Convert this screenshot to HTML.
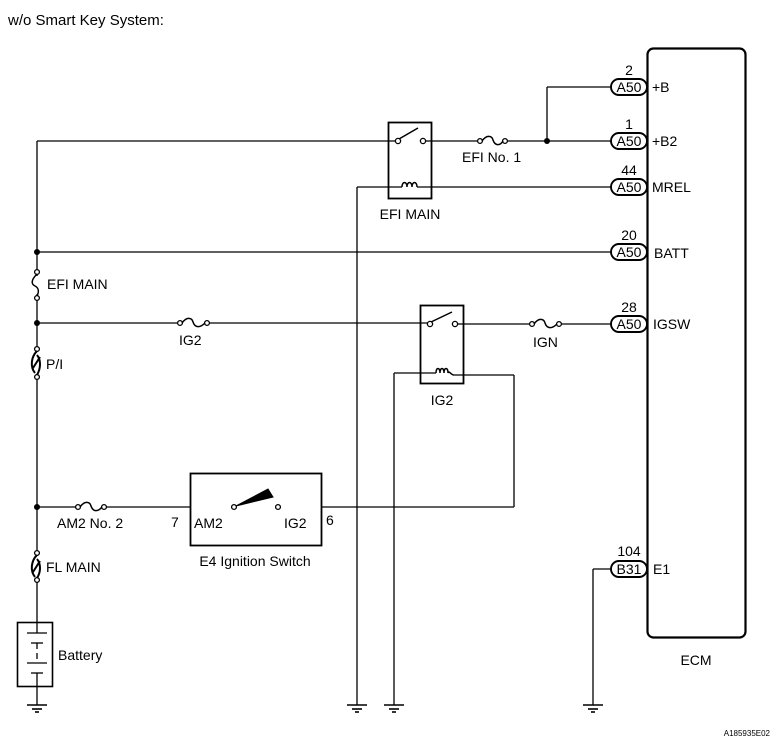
<!DOCTYPE html>
<html><head><meta charset="utf-8"><style>
html,body{margin:0;padding:0;background:#fff;}
svg{display:block;}
text{font-family:"Liberation Sans",Arial,sans-serif;fill:#000;}
</style></head><body>
<svg width="777" height="743" viewBox="0 0 777 743" xmlns="http://www.w3.org/2000/svg">
<g stroke="#000" fill="none" stroke-width="1.3">
<rect x="647.5" y="48.5" width="98" height="589" rx="6" stroke-width="2.2"/>
<line x1="37" y1="141" x2="37" y2="276"/>
<line x1="37" y1="294" x2="37" y2="347"/>
<line x1="37" y1="379" x2="37" y2="553"/>
<line x1="37" y1="580" x2="37" y2="623"/>
<circle cx="37" cy="272" r="2.4" fill="#fff"/>
<circle cx="37" cy="298" r="2.4" fill="#fff"/>
<path d="M37 274 C31 280,31 284,35 286 C39 288,39 292,37 296" stroke-width="1.5"/>
<circle cx="37" cy="349" r="2.4" fill="#fff"/>
<circle cx="37" cy="377" r="2.4" fill="#fff"/>
<path d="M37 351 C31 357,30 367,35 373 M37 355 C41 360,41 368,37 375 M33 368 L40 357" stroke-width="2"/>
<circle cx="37" cy="553" r="2.4" fill="#fff"/>
<circle cx="37" cy="580" r="2.4" fill="#fff"/>
<path d="M37 555 C31 561,30 571,35 577 M37 559 C41 564,41 572,37 578 M33 572 L40 561" stroke-width="2"/>
<rect x="17.5" y="622.5" width="35" height="64" stroke-width="1.6"/>
<line x1="37" y1="623" x2="37" y2="633"/>
<line x1="27" y1="633" x2="47" y2="633"/>
<line x1="31" y1="643" x2="43" y2="643"/>
<line x1="37" y1="643" x2="37" y2="649"/>
<line x1="37" y1="653" x2="37" y2="659"/>
<line x1="27" y1="663" x2="47" y2="663"/>
<line x1="31" y1="673" x2="43" y2="673"/>
<line x1="37" y1="673" x2="37" y2="705"/>
<line x1="37" y1="141" x2="396" y2="141"/>
<rect x="388.5" y="122.5" width="43" height="76" stroke-width="1.8"/>
<circle cx="398" cy="141" r="2.6" fill="#fff"/>
<circle cx="423" cy="141" r="2.6" fill="#fff"/>
<line x1="399" y1="139" x2="418" y2="128" stroke-width="1.5"/>
<line x1="425" y1="141" x2="478" y2="141"/>
<circle cx="480" cy="141" r="2.4" fill="#fff"/>
<circle cx="505" cy="141" r="2.4" fill="#fff"/>
<path d="M482 141 C487 134,492 136,493 140 C495 146,500 146,503 141" stroke-width="1.5"/>
<line x1="507" y1="141" x2="611" y2="141"/>
<line x1="547" y1="141" x2="547" y2="87"/>
<line x1="547" y1="87" x2="611" y2="87"/>
<line x1="357" y1="187" x2="402" y2="187"/>
<path d="M402 187 C402 181,407 181,407 187 C407 181,412 181,412 187 C412 181,417 181,417 187" stroke-width="1.5"/>
<line x1="417" y1="187" x2="611" y2="187"/>
<line x1="357" y1="187" x2="357" y2="705"/>
<line x1="37" y1="252" x2="611" y2="252"/>
<line x1="37" y1="323" x2="178" y2="323"/>
<circle cx="180" cy="323" r="2.4" fill="#fff"/>
<circle cx="207" cy="323" r="2.4" fill="#fff"/>
<path d="M182 323 C187 316,192 318,193 322 C195 328,200 328,205 323" stroke-width="1.5"/>
<line x1="209" y1="323" x2="428" y2="323"/>
<rect x="420.5" y="305.5" width="43" height="78" stroke-width="1.8"/>
<circle cx="430" cy="324" r="2.6" fill="#fff"/>
<circle cx="455" cy="324" r="2.6" fill="#fff"/>
<line x1="431" y1="322" x2="452" y2="312" stroke-width="1.5"/>
<line x1="457" y1="324" x2="530" y2="324"/>
<circle cx="532" cy="324" r="2.4" fill="#fff"/>
<circle cx="559" cy="324" r="2.4" fill="#fff"/>
<path d="M534 324 C539 317,544 319,545 323 C547 329,552 329,557 324" stroke-width="1.5"/>
<line x1="561" y1="324" x2="611" y2="324"/>
<line x1="394" y1="373" x2="436" y2="373"/>
<path d="M436 373 C436 367,440 367,440 373 C440 367,444 367,444 373 C444 367,448 367,448 373 C449 370,451 375,454 375" stroke-width="1.5"/>
<line x1="454" y1="375" x2="514" y2="375"/>
<line x1="394" y1="373" x2="394" y2="705"/>
<line x1="514" y1="375" x2="514" y2="507"/>
<line x1="514" y1="507" x2="322" y2="507"/>
<line x1="37" y1="507" x2="76" y2="507"/>
<circle cx="78" cy="507" r="2.4" fill="#fff"/>
<circle cx="104" cy="507" r="2.4" fill="#fff"/>
<path d="M80 507 C85 500,90 502,91 506 C93 512,98 512,102 507" stroke-width="1.5"/>
<line x1="106" y1="507" x2="190" y2="507"/>
<rect x="190.5" y="473.5" width="131" height="72" stroke-width="1.8"/>
<circle cx="234" cy="507" r="2.4" fill="#fff"/>
<circle cx="278" cy="507" r="2.4" fill="#fff"/>
<path d="M236 506 L268 489 L273 497 Z" fill="#000" stroke-width="1"/>
<line x1="593" y1="569" x2="611" y2="569"/>
<line x1="593" y1="569" x2="593" y2="705"/>
<g stroke-width="1.9">
<rect x="611" y="79" width="36" height="16" rx="8" fill="#fff"/>
<rect x="611" y="133" width="36" height="16" rx="8" fill="#fff"/>
<rect x="611" y="179" width="36" height="16" rx="8" fill="#fff"/>
<rect x="611" y="244" width="36" height="16" rx="8" fill="#fff"/>
<rect x="611" y="316" width="36" height="16" rx="8" fill="#fff"/>
<rect x="611" y="561" width="36" height="16" rx="8" fill="#fff"/>
</g>
<g stroke-width="1.6">
<line x1="27" y1="705" x2="47" y2="705"/><line x1="32" y1="709" x2="42" y2="709"/><line x1="35" y1="712" x2="39" y2="712"/>
<line x1="347" y1="705" x2="367" y2="705"/><line x1="352" y1="709" x2="362" y2="709"/><line x1="355" y1="712" x2="359" y2="712"/>
<line x1="384" y1="705" x2="404" y2="705"/><line x1="389" y1="709" x2="399" y2="709"/><line x1="392" y1="712" x2="396" y2="712"/>
<line x1="583" y1="705" x2="603" y2="705"/><line x1="588" y1="709" x2="598" y2="709"/><line x1="591" y1="712" x2="595" y2="712"/>
</g>
</g>
<g fill="#000">
<circle cx="547" cy="141" r="3"/>
<circle cx="37" cy="252" r="3"/>
<circle cx="37" cy="323" r="3"/>
<circle cx="37" cy="507" r="3"/>
</g>
<text x="8" y="25" font-size="15">w/o Smart Key System:</text>
<g font-size="14">
<text x="629" y="75" text-anchor="middle">2</text>
<text x="629" y="129" text-anchor="middle">1</text>
<text x="629" y="175" text-anchor="middle">44</text>
<text x="629" y="240" text-anchor="middle">20</text>
<text x="629" y="312" text-anchor="middle">28</text>
<text x="629" y="556" text-anchor="middle">104</text>
<text x="629" y="92" text-anchor="middle">A50</text>
<text x="629" y="146" text-anchor="middle">A50</text>
<text x="629" y="192" text-anchor="middle">A50</text>
<text x="629" y="257" text-anchor="middle">A50</text>
<text x="629" y="329" text-anchor="middle">A50</text>
<text x="629" y="574" text-anchor="middle">B31</text>
<text x="652" y="92">+B</text>
<text x="652" y="146">+B2</text>
<text x="652" y="192">MREL</text>
<text x="654" y="258">BATT</text>
<text x="653" y="329">IGSW</text>
<text x="653" y="574">E1</text>
<text x="696" y="665" text-anchor="middle">ECM</text>
<text x="462" y="162">EFI No. 1</text>
<text x="410" y="219" text-anchor="middle">EFI MAIN</text>
<text x="47" y="289">EFI MAIN</text>
<text x="179" y="345">IG2</text>
<text x="533" y="347">IGN</text>
<text x="442" y="405" text-anchor="middle">IG2</text>
<text x="46" y="369">P/I</text>
<text x="57" y="528">AM2 No. 2</text>
<text x="171" y="527">7</text>
<text x="194" y="528">AM2</text>
<text x="284" y="528">IG2</text>
<text x="326" y="525">6</text>
<text x="255" y="566" text-anchor="middle">E4 Ignition Switch</text>
<text x="46" y="572">FL MAIN</text>
<text x="58" y="660">Battery</text>
</g>
<text x="770" y="736" font-size="8" text-anchor="end">A185935E02</text>
</svg>
</body></html>
